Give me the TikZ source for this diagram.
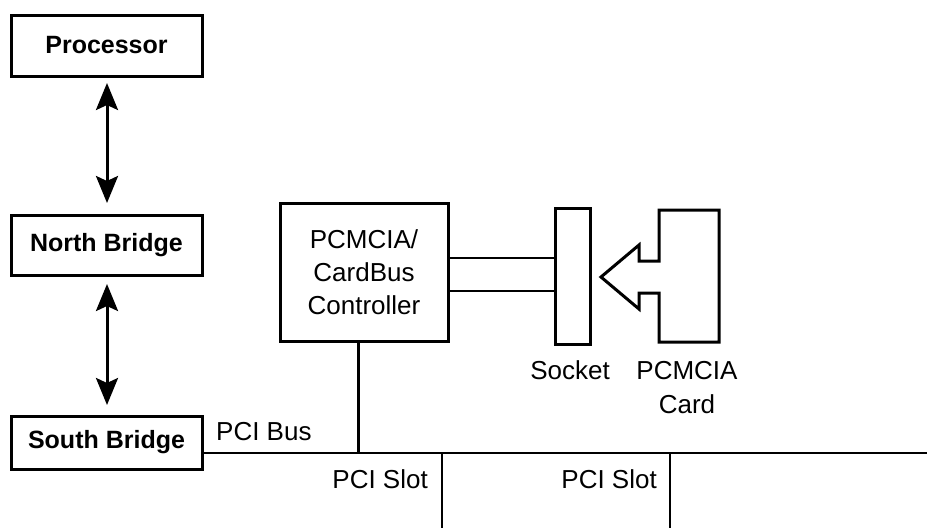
\documentclass[tikz,border=0pt]{standalone}
\usepackage{fontspec}
\setmainfont{Liberation Sans}
\usetikzlibrary{arrows.meta}
\begin{document}
\begin{tikzpicture}[x=1pt,y=-1pt,
  box/.style={draw, line width=3pt, inner sep=0pt, font=\fontsize{25}{30}\selectfont\bfseries},
  ctrlbox/.style={draw, line width=3pt, inner sep=0pt, align=center, font=\fontsize{26}{33}\selectfont},
  lbl/.style={inner sep=0pt, font=\fontsize{26}{34}\selectfont, align=center},
  wire/.style={line width=2.8pt},
  biarrow/.style={line width=3pt, {Stealth[length=27pt,width=22pt,inset=5pt]}-{Stealth[length=27pt,width=22pt,inset=5pt]}}
]
\useasboundingbox (0,0) rectangle (927,528);
% left column
\node[box, minimum width=191pt, minimum height=61pt] (proc) at (106.5,45.5) {Processor};
\node[box, minimum width=191pt, minimum height=60pt] (nb) at (106.5,245) {North Bridge};
\node[box, minimum width=191pt, minimum height=53pt] (sb) at (106.5,442.5) {South Bridge};
\coordinate (a1s) at (107,83);
\coordinate (a1e) at (107,203);
\coordinate (a2s) at (107,284);
\coordinate (a2e) at (107,405);
\draw[biarrow] (a1s) -- (a1e);
\draw[biarrow] (a2s) -- (a2e);
% controller and socket
\node[ctrlbox, minimum width=168pt, minimum height=138pt] (ctrl) at (364,272) {PCMCIA/\\CardBus\\Controller};
\node[draw, line width=3pt, inner sep=0pt, minimum width=35pt, minimum height=136pt] (sock) at (572.5,276) {};
\draw[wire] (ctrl.east |- 0,258) -- (sock.west |- 0,258);
\draw[wire] (ctrl.east |- 0,291) -- (sock.west |- 0,291);
% card with arrow
\draw[line width=3pt, line join=miter] (659,210) -- (719,210) -- (719,342) -- (659,342) -- (659,293) -- (639,293) -- (639,309) -- (601,277) -- (639,245) -- (639,261) -- (659,261) -- cycle;
\node[lbl] (socklbl) at (570,370) {Socket};
\node[lbl] (cardlbl) at (687,387.5) {PCMCIA\\Card};
% bus
\coordinate (busend) at (927,453);
\coordinate (ctrldrop) at (358.5,341);
\coordinate (slot1) at (442,453);
\coordinate (slot1end) at (442,528);
\coordinate (slot2) at (670,453);
\coordinate (slot2end) at (670,528);
\draw[wire] (sb.east |- busend) -- (busend);
\draw[wire] (ctrldrop) -- (ctrldrop |- busend);
\draw[wire] (slot1) -- (slot1end);
\draw[wire] (slot2) -- (slot2end);
\node[lbl, anchor=west] (buslbl) at (216,432) {PCI Bus};
\node[lbl, anchor=east] (slotlbl1) at (428,479) {PCI Slot};
\node[lbl, anchor=east] (slotlbl2) at (657,479) {PCI Slot};
\end{tikzpicture}
\end{document}
